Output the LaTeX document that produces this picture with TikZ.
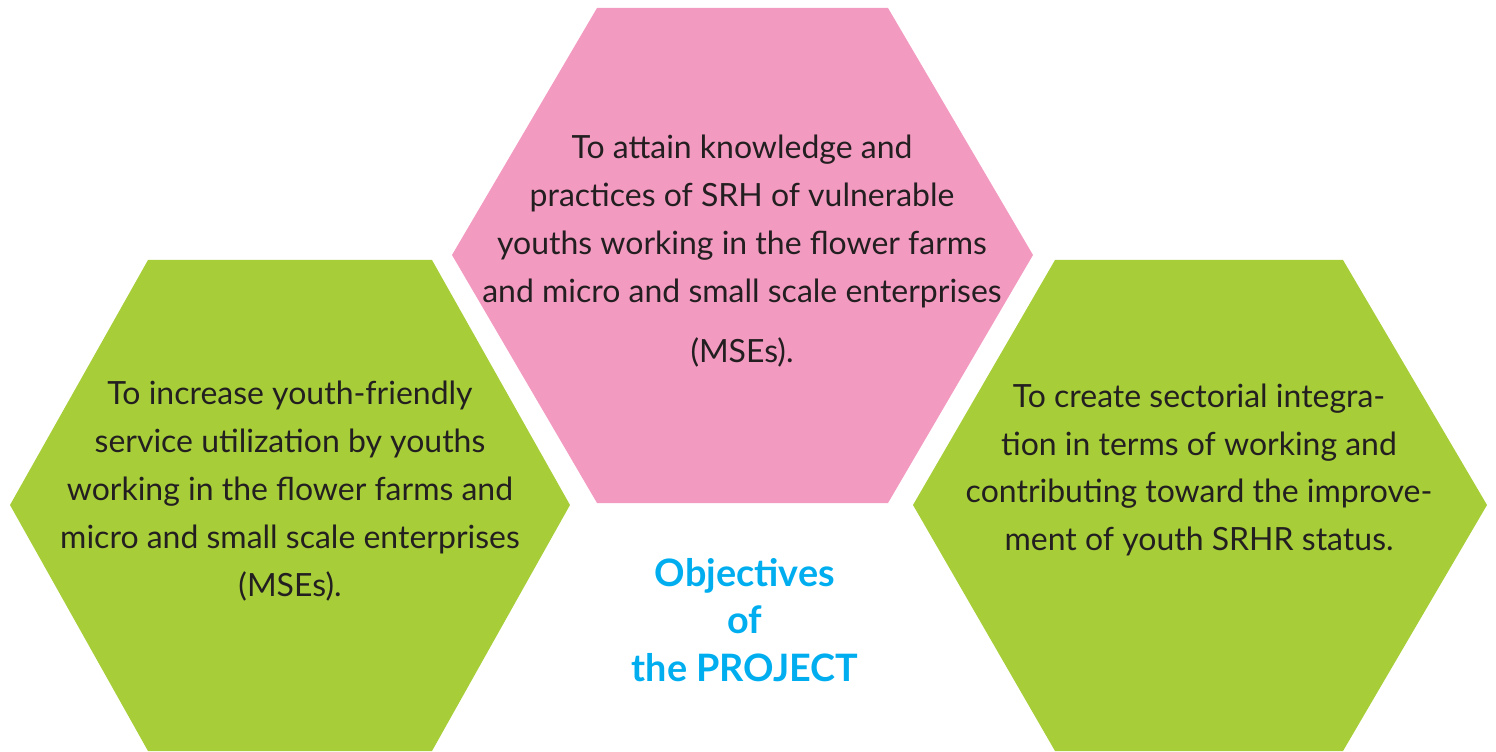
\documentclass[tikz,border=0pt]{standalone}
\usepackage{fontspec}
\setmainfont{Lato}
\definecolor{hexpink}{HTML}{F39AC1}
\definecolor{hexgreen}{HTML}{A7CE39}
\definecolor{txtgray}{HTML}{231F20}
\definecolor{titleblue}{HTML}{00AEEF}
\tikzset{
  goaltext/.style={align=center,text=txtgray,font=\fontsize{18.2}{27.2}\selectfont},
  titletext/.style={align=center,text=titleblue,font=\fontsize{21.5}{27.2}\selectfont\bfseries}
}
\begin{document}
\begin{tikzpicture}[x=0.02cm,y=0.02cm]
\useasboundingbox (0,0) rectangle (1496,751);
% hexagons
\fill[hexpink] (597,743) -- (888,743) -- (1033,496) -- (888,248) -- (597,248) -- (452,496) -- cycle;
\fill[hexgreen] (148,491) -- (432,491) -- (570,246) -- (432,0) -- (148,0) -- (10,246) -- cycle;
\fill[hexgreen] (1055,491) -- (1343,491) -- (1487,246) -- (1343,0) -- (1055,0) -- (913,246) -- cycle;
% texts
\node[goaltext] (attain) at (742,500) {To attain knowledge and\\practices of SRH of vulnerable\\youths working in the flower farms\\and micro and small scale enterprises\\[7pt](MSEs).};
\node[goaltext] (increase) at (290,260) {To increase youth-friendly\\service utilization by youths\\working in the flower farms and\\micro and small scale enterprises\\(MSEs).};
\node[goaltext] (create) at (1199,281) {To create sectorial integra-\\tion in terms of working and\\contributing toward the improve-\\ment of youth SRHR status.};
\node[titletext] (objectives) at (745,131) {Objectives\\of\\the PROJECT};
\end{tikzpicture}
\end{document}
